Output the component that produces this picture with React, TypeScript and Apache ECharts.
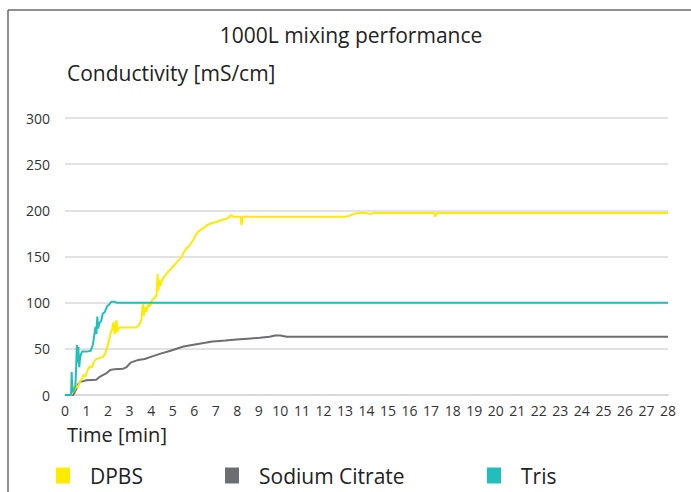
import React, { useEffect, useRef } from "react";
import * as echarts from "echarts";

const seriesNames = ["DPBS", "Sodium Citrate", "Tris"];
const seriesColors = ["#FFEB00", "#6D6E71", "#22BEBE"];
const xTicks = { min: 0, max: 28, interval: 1 };
const yTicks = { min: 0, max: 300, interval: 50 };

const dpbsData = [
  [0, 0], [0.3, 0], [0.35, 13], [0.38, 3], [0.45, 6], [0.55, 10], [0.6, 8], [0.7, 15], [0.8, 18],
  [0.85, 22], [0.95, 20], [1.05, 27], [1.15, 31], [1.25, 30], [1.35, 36], [1.45, 39], [1.6, 40],
  [1.75, 41], [1.85, 44], [1.95, 51], [2.05, 60], [2.12, 67], [2.2, 72], [2.25, 79], [2.28, 70],
  [2.32, 66], [2.36, 77], [2.4, 81], [2.43, 68], [2.48, 72], [2.55, 73], [3.0, 73], [3.3, 73],
  [3.45, 76], [3.55, 82], [3.62, 100], [3.66, 86], [3.72, 95], [3.78, 90], [3.85, 98], [3.95, 96],
  [4.05, 103], [4.15, 105], [4.25, 108], [4.3, 131], [4.34, 113], [4.38, 125], [4.42, 118],
  [4.5, 124], [4.6, 128], [4.7, 131], [4.8, 134], [4.9, 136], [5.05, 140], [5.2, 144], [5.35, 148],
  [5.45, 151], [5.55, 156], [5.7, 160], [5.85, 164], [5.95, 168], [6.05, 172], [6.15, 176],
  [6.3, 179], [6.45, 181], [6.6, 184], [6.8, 186], [7.0, 187], [7.2, 189], [7.4, 190], [7.6, 192],
  [7.7, 195], [7.8, 193], [8.15, 193], [8.2, 184], [8.25, 193], [10, 193], [12, 193], [13.0, 193],
  [13.2, 194], [13.4, 196], [13.6, 197], [14, 197], [14.2, 196], [14.3, 197], [15, 197],
  [17.15, 197], [17.2, 193], [17.25, 197], [28, 197],
];

const citrateData = [
  [0, 0], [0.38, 0], [0.45, 3], [0.53, 7], [0.62, 12], [0.72, 14.5], [0.85, 15], [1.0, 16],
  [1.45, 16.5], [1.63, 20], [1.8, 22], [1.95, 24], [2.1, 27], [2.3, 28], [2.7, 28.5], [2.85, 30],
  [3.05, 35], [3.4, 38], [3.7, 39], [3.95, 41], [4.4, 44.5], [4.9, 48], [5.5, 52.5], [6.1, 55],
  [6.85, 58], [7.45, 59], [7.95, 60], [8.5, 61], [9.05, 62], [9.5, 63], [9.75, 64.5], [10.0, 64.5],
  [10.3, 63], [12, 63], [28, 63],
];

const trisData = [
  [0, 0], [0.28, 0], [0.31, 25], [0.34, 3], [0.4, 5], [0.48, 10], [0.52, 30], [0.55, 54],
  [0.58, 35], [0.62, 52], [0.66, 30], [0.7, 40], [0.75, 45], [0.8, 47], [1.0, 47], [1.2, 48],
  [1.3, 55], [1.38, 68], [1.42, 74], [1.46, 66], [1.5, 85], [1.54, 72], [1.6, 78], [1.68, 80],
  [1.75, 88], [1.85, 90], [1.95, 96], [2.05, 98], [2.15, 101], [2.3, 101], [2.4, 100], [28, 100],
];

const seriesData = [dpbsData, citrateData, trisData];
const legendLeft = [56, 225, 487];

const FONT = "'Open Sans', Lato, sans-serif";

export default function App() {
  const ref = useRef<HTMLDivElement>(null);
  useEffect(() => {
    if (!ref.current) return;
    const chart = echarts.init(ref.current, null, { renderer: "svg" });
    chart.setOption({
      animation: false,
      backgroundColor: "#ffffff",
      textStyle: { fontFamily: FONT },
      title: {
        text: "1000L mixing performance",
        left: 351,
        top: 24,
        padding: 0,
        textAlign: "center",
        textStyle: { fontFamily: FONT, fontSize: 21, fontWeight: "normal", color: "#222" },
      },
      graphic: [
        { type: "line", shape: { x1: 8, y1: 10, x2: 691, y2: 10 }, style: { stroke: "#6a6a6a", lineWidth: 1.5 } },
        { type: "line", shape: { x1: 8, y1: 10, x2: 8, y2: 492 }, style: { stroke: "#6a6a6a", lineWidth: 1.5 } },
        {
          type: "text", left: 67, top: 62,
          style: { text: "Conductivity [mS/cm]", font: `normal 21px ${FONT}`, fill: "#222" },
        },
        {
          type: "text", left: 67, top: 424,
          style: { text: "Time [min]", font: `normal 20px ${FONT}`, fill: "#222" },
        },
      ],
      legend: seriesNames.map((name, i) => ({
        data: [name],
        left: legendLeft[i],
        top: 465,
        padding: 0,
        icon: "rect",
        itemWidth: 14,
        itemHeight: 16,
        itemGap: 0,
        textStyle: { fontFamily: FONT, fontSize: 21, color: "#222", padding: [0, 0, 0, 15] },
      })),
      grid: { left: 65, right: 23, top: 118, bottom: 97 },
      xAxis: {
        type: "value",
        min: xTicks.min,
        max: xTicks.max,
        interval: xTicks.interval,
        axisLine: { show: true, lineStyle: { color: "#d9d9d9", width: 2 } },
        axisTick: { show: false },
        splitLine: { show: false },
        axisLabel: { color: "#333", fontSize: 14, margin: 8, fontFamily: FONT },
      },
      yAxis: {
        type: "value",
        min: yTicks.min,
        max: yTicks.max,
        interval: yTicks.interval,
        axisLine: { show: false },
        axisTick: { show: false },
        splitLine: { show: true, lineStyle: { color: "#d9d9d9", width: 1.5 } },
        axisLabel: { color: "#333", fontSize: 14, margin: 15, fontFamily: FONT },
      },
      series: seriesNames.map((name, i) => ({
        name,
        type: "line",
        data: seriesData[i],
        showSymbol: false,
        symbol: "none",
        color: seriesColors[i],
        lineStyle: { color: seriesColors[i], width: 2 },
        z: i === 2 ? 3 : i === 0 ? 2 : 1,
      })),
    });
    return () => chart.dispose();
  }, []);
  return (
    <div
      ref={ref}
      style={{ position: "fixed", left: 0, top: 0, width: 691, height: 492, background: "#fff" }}
    />
  );
}
